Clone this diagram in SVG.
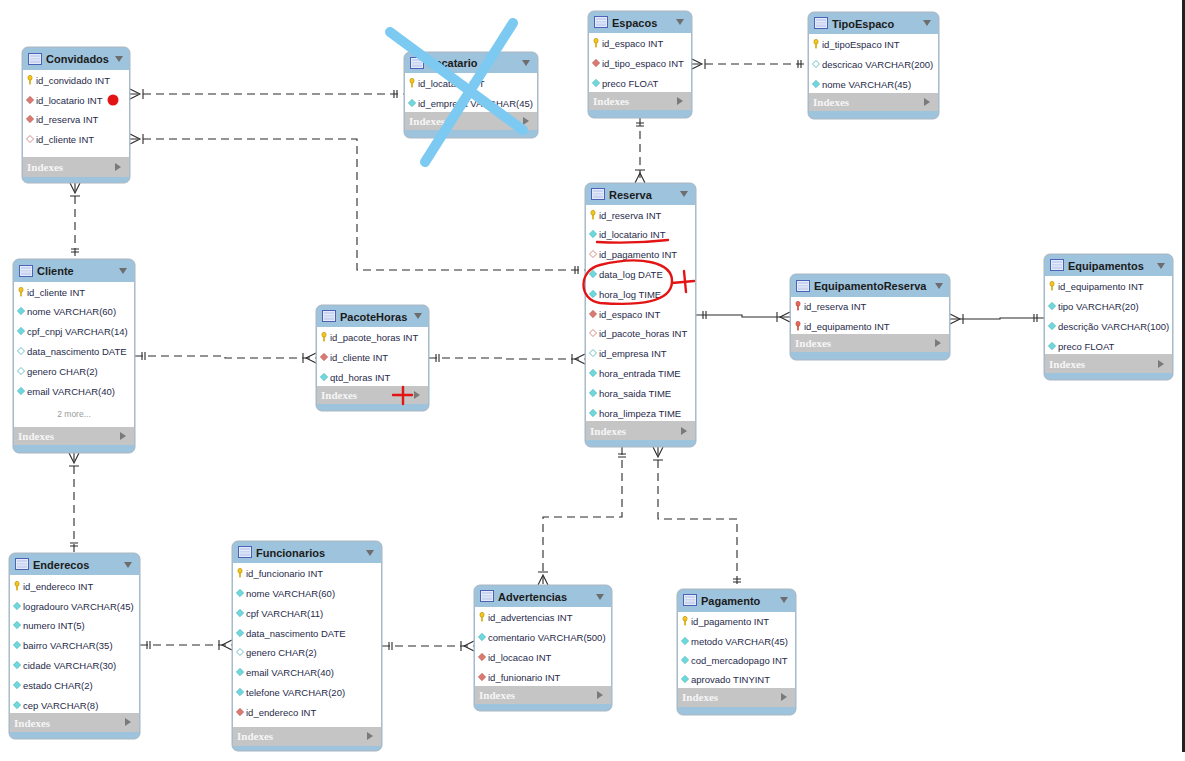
<svg xmlns="http://www.w3.org/2000/svg" xmlns:xlink="http://www.w3.org/1999/xlink" width="1185" height="761" viewBox="0 0 1185 761">
<style>
.tb{fill:#9ec3dd;stroke:#aab6c0;stroke-width:1}
.bd{fill:#ffffff}
.ix{fill:#c5c5c5}
.tt{font-family:"Liberation Sans",Arial,sans-serif;font-weight:bold;font-size:11px;fill:#1b1b1b}
.rw{font-family:"Liberation Sans",Arial,sans-serif;font-size:9.5px;fill:#1f2a4a}
.mo{font-family:"Liberation Sans",Arial,sans-serif;font-size:8.5px;fill:#9a9a9a}
.ixt{font-family:"Liberation Serif","Times New Roman",serif;font-weight:bold;font-size:11px;fill:#f6f6f6}
.cn{fill:none;stroke:#2a2a2a;stroke-width:1.1;stroke-dasharray:8 5}
.cs{fill:none;stroke:#2a2a2a;stroke-width:1.1}
.mk{fill:none;stroke:#2a2a2a;stroke-width:1.1}
.red{fill:none;stroke:#e31414;stroke-width:2.4;stroke-linecap:round}
.blu{fill:none;stroke:#7ccaf2;stroke-width:10;stroke-linecap:round}
</style>
<defs>
<g id="key"><ellipse cx="0" cy="-2.2" rx="2.1" ry="2.5" fill="#f5c518" stroke="#b08a00" stroke-width="0.6"/><rect x="-0.8" y="-0.2" width="1.6" height="4.6" fill="#d4a800"/></g>
<g id="rkey"><ellipse cx="0" cy="-2.2" rx="2.1" ry="2.5" fill="#e8685a" stroke="#b04030" stroke-width="0.6"/><rect x="-0.8" y="-0.2" width="1.6" height="4.6" fill="#c84a3c"/></g>
<path id="dc" d="M0,-3.7 L3.7,0 L0,3.7 L-3.7,0Z" fill="#6fd8dc" stroke="#46b2ba" stroke-width="0.6"/>
<path id="dco" d="M0,-3.5 L3.5,0 L0,3.5 L-3.5,0Z" fill="#ffffff" stroke="#5ab8c0" stroke-width="0.9"/>
<path id="dr" d="M0,-3.7 L3.7,0 L0,3.7 L-3.7,0Z" fill="#d97b72" stroke="#b85a52" stroke-width="0.6"/>
<path id="dro" d="M0,-3.5 L3.5,0 L0,3.5 L-3.5,0Z" fill="#ffffff" stroke="#c88078" stroke-width="0.9"/>
<g id="tic"><rect x="0.5" y="0.5" width="13" height="11" fill="#e4eaf8" stroke="#4a62b8"/><rect x="2" y="2" width="10" height="8" fill="#c8d4f0"/><path d="M2,4.5 H12 M2,7 H12" stroke="#eef2fb" stroke-width="0.8"/></g>
<path id="dd" d="M-4,-3 L4,-3 L0,3Z" fill="#6d6d6d"/>
<path id="rt" d="M-3,-4 L3,0 L-3,4Z" fill="#7a7a7a"/>
</defs>

<g id="connectors">
<path class="cn" d="M130,94 H404"/>
<path class="mk" d="M130,89 L140,94 L130,99 M143,89 V99 M397,90 V98 M394,90 V98"/>
<path class="cn" d="M130,139 H357 V270 H585"/>
<path class="mk" d="M130,134 L140,139 L130,144 M143,134 V144 M578,266 V274 M575,266 V274"/>
<path class="cn" d="M75,183 V259"/>
<path class="mk" d="M70,183 L75,193 L80,183 M70,196 H80 M71,252 H79 M71,249 H79"/>
<path class="cn" d="M640,118 V183"/>
<path class="mk" d="M636,123 H644 M636,126 H644 M635,183 L640,173 L645,183 M635,170 H645"/>
<path class="cn" d="M692,64 H808"/>
<path class="mk" d="M692,59 L702,64 L692,69 M705,59 V69 M801,60 V68 M798,60 V68"/>
<path class="cn" d="M135,356 H225 V358 H316"/>
<path class="mk" d="M142,352 V360 M145,352 V360 M316,353 L306,358 L316,363 M303,353 V363"/>
<path class="cn" d="M429,358 H505 V359 H585"/>
<path class="mk" d="M436,354 V362 M439,354 V362 M585,354 L575,359 L585,364 M572,354 V364"/>
<path class="cs" d="M696,315 H742 V317 H790"/>
<path class="mk" d="M703,311 V319 M706,311 V319 M790,312 L780,317 L790,322 M777,312 V322"/>
<path class="cs" d="M950,319 H1000 V318 H1044"/>
<path class="mk" d="M950,314 L960,319 L950,324 M963,314 V324 M1037,314 V322 M1034,314 V322"/>
<path class="cn" d="M74,453 V553"/>
<path class="mk" d="M69,453 L74,463 L79,453 M69,466 H79 M70,546 H78 M70,543 H78"/>
<path class="cn" d="M140,645 H232"/>
<path class="mk" d="M147,641 V649 M150,641 V649 M232,640 L222,645 L232,650 M219,640 V650"/>
<path class="cn" d="M382,646 H474"/>
<path class="mk" d="M389,642 V650 M392,642 V650 M474,641 L464,646 L474,651 M461,641 V651"/>
<path class="cn" d="M622,447 V517 H543 V585"/>
<path class="mk" d="M618,454 H626 M618,457 H626 M538,585 L543,575 L548,585 M538,572 H548"/>
<path class="cn" d="M658,447 V519 H737 V589"/>
<path class="mk" d="M653,447 L658,457 L663,447 M653,460 H663 M733,582 H741 M733,579 H741"/>
</g>

<g id="convidados">
<rect class="tb" x="22" y="47" width="108" height="136" rx="6"/>
<rect class="bd" x="23" y="70" width="106" height="87"/>
<rect class="ix" x="23" y="157" width="106" height="20"/>
<use href="#tic" x="28" y="53"/>
<text class="tt" x="46" y="63">Convidados</text>
<use href="#dd" x="119" y="59"/>
<use href="#key" x="30" y="80"/><text class="rw" x="36" y="83.5">id_convidado INT</text>
<use href="#dr" x="30" y="100"/><text class="rw" x="36" y="103.5">id_locatario INT</text>
<use href="#dr" x="30" y="119"/><text class="rw" x="36" y="122.5">id_reserva INT</text>
<use href="#dro" x="30" y="139"/><text class="rw" x="36" y="142.5">id_cliente INT</text>
<text class="ixt" x="27" y="171">Indexes</text>
<use href="#rt" x="118" y="167"/>
</g>

<g id="locatario">
<rect class="tb" x="404" y="52" width="134" height="86" rx="6"/>
<rect class="bd" x="405" y="73" width="132" height="39"/>
<rect class="ix" x="405" y="112" width="132" height="18"/>
<use href="#tic" x="410" y="57"/>
<text class="tt" x="428" y="67">Locatario</text>
<use href="#dd" x="526" y="63"/>
<use href="#key" x="412" y="83"/><text class="rw" x="418" y="86.5">id_locatario INT</text>
<use href="#dc" x="412" y="103"/><text class="rw" x="418" y="106.5">id_empresa VARCHAR(45)</text>
<text class="ixt" x="409" y="125">Indexes</text>
<use href="#rt" x="526" y="121"/>
</g>

<g id="espacos">
<rect class="tb" x="588" y="11" width="104" height="107" rx="6"/>
<rect class="bd" x="589" y="33" width="102" height="59"/>
<rect class="ix" x="589" y="92" width="102" height="18"/>
<use href="#tic" x="594" y="16"/>
<text class="tt" x="612" y="27">Espacos</text>
<use href="#dd" x="680" y="22"/>
<use href="#key" x="596" y="43"/><text class="rw" x="602" y="46.5">id_espaco INT</text>
<use href="#dr" x="596" y="63"/><text class="rw" x="602" y="66.5">id_tipo_espaco INT</text>
<use href="#dc" x="596" y="83"/><text class="rw" x="602" y="86.5">preco FLOAT</text>
<text class="ixt" x="593" y="105">Indexes</text>
<use href="#rt" x="680" y="101"/>
</g>

<g id="tipoespaco">
<rect class="tb" x="808" y="12" width="131" height="107" rx="6"/>
<rect class="bd" x="809" y="34" width="129" height="59"/>
<rect class="ix" x="809" y="93" width="129" height="18"/>
<use href="#tic" x="814" y="17"/>
<text class="tt" x="832" y="28">TipoEspaco</text>
<use href="#dd" x="927" y="23"/>
<use href="#key" x="816" y="44"/><text class="rw" x="822" y="47.5">id_tipoEspaco INT</text>
<use href="#dco" x="816" y="64"/><text class="rw" x="822" y="67.5">descricao VARCHAR(200)</text>
<use href="#dc" x="816" y="84"/><text class="rw" x="822" y="87.5">nome VARCHAR(45)</text>
<text class="ixt" x="813" y="106">Indexes</text>
<use href="#rt" x="927" y="102"/>
</g>

<g id="cliente">
<rect class="tb" x="13" y="259" width="122" height="194" rx="6"/>
<rect class="bd" x="14" y="282" width="120" height="145"/>
<rect class="ix" x="14" y="427" width="120" height="18"/>
<use href="#tic" x="19" y="265"/>
<text class="tt" x="37" y="275">Cliente</text>
<use href="#dd" x="123" y="271"/>
<use href="#key" x="21" y="292"/><text class="rw" x="27" y="295.5">id_cliente INT</text>
<use href="#dc" x="21" y="311"/><text class="rw" x="27" y="314.5">nome VARCHAR(60)</text>
<use href="#dc" x="21" y="331"/><text class="rw" x="27" y="334.5">cpf_cnpj VARCHAR(14)</text>
<use href="#dco" x="21" y="351"/><text class="rw" x="27" y="354.5">data_nascimento DATE</text>
<use href="#dco" x="21" y="371"/><text class="rw" x="27" y="374.5">genero CHAR(2)</text>
<use href="#dc" x="21" y="391"/><text class="rw" x="27" y="394.5">email VARCHAR(40)</text>
<text class="mo" x="74" y="417" text-anchor="middle">2 more...</text>
<text class="ixt" x="18" y="440">Indexes</text>
<use href="#rt" x="123" y="436"/>
</g>

<g id="pacotehoras">
<rect class="tb" x="316" y="305" width="113" height="106" rx="6"/>
<rect class="bd" x="317" y="327" width="111" height="59"/>
<rect class="ix" x="317" y="386" width="111" height="18"/>
<use href="#tic" x="322" y="310"/>
<text class="tt" x="340" y="321">PacoteHoras</text>
<use href="#dd" x="418" y="316"/>
<use href="#key" x="324" y="337"/><text class="rw" x="330" y="340.5">id_pacote_horas INT</text>
<use href="#dr" x="324" y="357"/><text class="rw" x="330" y="360.5">id_cliente INT</text>
<use href="#dc" x="324" y="377"/><text class="rw" x="330" y="380.5">qtd_horas INT</text>
<text class="ixt" x="321" y="399">Indexes</text>
<use href="#rt" x="417" y="395"/>
</g>

<g id="reserva">
<rect class="tb" x="585" y="183" width="111" height="264" rx="6"/>
<rect class="bd" x="586" y="205" width="109" height="216"/>
<rect class="ix" x="586" y="421" width="109" height="19"/>
<use href="#tic" x="591" y="188"/>
<text class="tt" x="609" y="199">Reserva</text>
<use href="#dd" x="684" y="194"/>
<use href="#key" x="593" y="215"/><text class="rw" x="599" y="218.5">id_reserva INT</text>
<use href="#dc" x="593" y="234"/><text class="rw" x="599" y="237.5">id_locatario INT</text>
<use href="#dro" x="593" y="254"/><text class="rw" x="599" y="257.5">id_pagamento INT</text>
<use href="#dc" x="593" y="274"/><text class="rw" x="599" y="277.5">data_log DATE</text>
<use href="#dc" x="593" y="294"/><text class="rw" x="599" y="297.5">hora_log TIME</text>
<use href="#dr" x="593" y="314"/><text class="rw" x="599" y="317.5">id_espaco INT</text>
<use href="#dro" x="593" y="333"/><text class="rw" x="599" y="336.5">id_pacote_horas INT</text>
<use href="#dco" x="593" y="353"/><text class="rw" x="599" y="356.5">id_empresa INT</text>
<use href="#dc" x="593" y="373"/><text class="rw" x="599" y="376.5">hora_entrada TIME</text>
<use href="#dc" x="593" y="393"/><text class="rw" x="599" y="396.5">hora_saida TIME</text>
<use href="#dc" x="593" y="413"/><text class="rw" x="599" y="416.5">hora_limpeza TIME</text>
<text class="ixt" x="590" y="435">Indexes</text>
<use href="#rt" x="684" y="431"/>
</g>

<g id="equipamentoreserva">
<rect class="tb" x="790" y="274" width="160" height="86" rx="6"/>
<rect class="bd" x="791" y="297" width="158" height="37"/>
<rect class="ix" x="791" y="334" width="158" height="18"/>
<use href="#tic" x="796" y="280"/>
<text class="tt" x="814" y="290">EquipamentoReserva</text>
<use href="#dd" x="939" y="286"/>
<use href="#rkey" x="798" y="306"/><text class="rw" x="804" y="309.5">id_reserva INT</text>
<use href="#rkey" x="798" y="326"/><text class="rw" x="804" y="329.5">id_equipamento INT</text>
<text class="ixt" x="795" y="347">Indexes</text>
<use href="#rt" x="938" y="343"/>
</g>

<g id="equipamentos">
<rect class="tb" x="1044" y="254" width="129" height="126" rx="6"/>
<rect class="bd" x="1045" y="276" width="127" height="78"/>
<rect class="ix" x="1045" y="354" width="127" height="19"/>
<use href="#tic" x="1050" y="259"/>
<text class="tt" x="1068" y="270">Equipamentos</text>
<use href="#dd" x="1161" y="266"/>
<use href="#key" x="1052" y="286"/><text class="rw" x="1058" y="289.5">id_equipamento INT</text>
<use href="#dc" x="1052" y="306"/><text class="rw" x="1058" y="309.5">tipo VARCHAR(20)</text>
<use href="#dc" x="1052" y="326"/><text class="rw" x="1058" y="329.5">descrição VARCHAR(100)</text>
<use href="#dc" x="1052" y="346"/><text class="rw" x="1058" y="349.5">preco FLOAT</text>
<text class="ixt" x="1049" y="368">Indexes</text>
<use href="#rt" x="1161" y="364"/>
</g>

<g id="enderecos">
<rect class="tb" x="9" y="553" width="131" height="186" rx="6"/>
<rect class="bd" x="10" y="575" width="129" height="138"/>
<rect class="ix" x="10" y="713" width="129" height="19"/>
<use href="#tic" x="15" y="558"/>
<text class="tt" x="33" y="569">Enderecos</text>
<use href="#dd" x="128" y="565"/>
<use href="#key" x="17" y="586"/><text class="rw" x="23" y="589.5">id_endereco INT</text>
<use href="#dc" x="17" y="606"/><text class="rw" x="23" y="609.5">logradouro VARCHAR(45)</text>
<use href="#dc" x="17" y="625"/><text class="rw" x="23" y="628.5">numero INT(5)</text>
<use href="#dc" x="17" y="645"/><text class="rw" x="23" y="648.5">bairro VARCHAR(35)</text>
<use href="#dc" x="17" y="665"/><text class="rw" x="23" y="668.5">cidade VARCHAR(30)</text>
<use href="#dc" x="17" y="685"/><text class="rw" x="23" y="688.5">estado CHAR(2)</text>
<use href="#dc" x="17" y="705"/><text class="rw" x="23" y="708.5">cep VARCHAR(8)</text>
<text class="ixt" x="14" y="727">Indexes</text>
<use href="#rt" x="128" y="722"/>
</g>

<g id="funcionarios">
<rect class="tb" x="232" y="541" width="150" height="210" rx="6"/>
<rect class="bd" x="233" y="563" width="148" height="164"/>
<rect class="ix" x="233" y="727" width="148" height="19"/>
<use href="#tic" x="238" y="546"/>
<text class="tt" x="256" y="557">Funcionarios</text>
<use href="#dd" x="370" y="553"/>
<use href="#key" x="240" y="573"/><text class="rw" x="246" y="576.5">id_funcionario INT</text>
<use href="#dc" x="240" y="593"/><text class="rw" x="246" y="596.5">nome VARCHAR(60)</text>
<use href="#dc" x="240" y="613"/><text class="rw" x="246" y="616.5">cpf VARCHAR(11)</text>
<use href="#dc" x="240" y="633"/><text class="rw" x="246" y="636.5">data_nascimento DATE</text>
<use href="#dco" x="240" y="652"/><text class="rw" x="246" y="655.5">genero CHAR(2)</text>
<use href="#dc" x="240" y="672"/><text class="rw" x="246" y="675.5">email VARCHAR(40)</text>
<use href="#dc" x="240" y="692"/><text class="rw" x="246" y="695.5">telefone VARCHAR(20)</text>
<use href="#dr" x="240" y="712"/><text class="rw" x="246" y="715.5">id_endereco INT</text>
<text class="ixt" x="237" y="740">Indexes</text>
<use href="#rt" x="370" y="736"/>
</g>

<g id="advertencias">
<rect class="tb" x="474" y="585" width="138" height="126" rx="6"/>
<rect class="bd" x="475" y="607" width="136" height="79"/>
<rect class="ix" x="475" y="686" width="136" height="18"/>
<use href="#tic" x="480" y="590"/>
<text class="tt" x="498" y="601">Advertencias</text>
<use href="#dd" x="600" y="597"/>
<use href="#key" x="482" y="617"/><text class="rw" x="488" y="620.5">id_advertencias INT</text>
<use href="#dc" x="482" y="637"/><text class="rw" x="488" y="640.5">comentario VARCHAR(500)</text>
<use href="#dr" x="482" y="657"/><text class="rw" x="488" y="660.5">id_locacao INT</text>
<use href="#dr" x="482" y="677"/><text class="rw" x="488" y="680.5">id_funionario INT</text>
<text class="ixt" x="479" y="699">Indexes</text>
<use href="#rt" x="600" y="695"/>
</g>

<g id="pagamento">
<rect class="tb" x="677" y="589" width="119" height="126" rx="6"/>
<rect class="bd" x="678" y="612" width="117" height="76"/>
<rect class="ix" x="678" y="688" width="117" height="19"/>
<use href="#tic" x="683" y="594"/>
<text class="tt" x="701" y="605">Pagamento</text>
<use href="#dd" x="784" y="600"/>
<use href="#key" x="685" y="621"/><text class="rw" x="691" y="624.5">id_pagamento INT</text>
<use href="#dc" x="685" y="641"/><text class="rw" x="691" y="644.5">metodo VARCHAR(45)</text>
<use href="#dc" x="685" y="660"/><text class="rw" x="691" y="663.5">cod_mercadopago INT</text>
<use href="#dc" x="685" y="679"/><text class="rw" x="691" y="682.5">aprovado TINYINT</text>
<text class="ixt" x="682" y="701">Indexes</text>
<use href="#rt" x="784" y="697"/>
</g>

<g id="annotations">
<path class="blu" d="M390,32 L523,130 M513,23 L425,162"/>
<circle cx="113" cy="100" r="5.5" fill="#e31414"/>
<path class="red" d="M597,242 Q632,244 668,240"/>
<path class="red" d="M600,265 C640,255 673,262 672,282 C671,302 640,306 600,303 C578,300 578,270 600,265 Z"/>
<path class="red" d="M672,283 L694,281 M684,271 L686,292"/>
<path class="red" d="M393,395 H412 M403,387 V404"/>
</g>
<rect x="1182" y="0" width="3" height="752" fill="#222222"/>
</svg>
